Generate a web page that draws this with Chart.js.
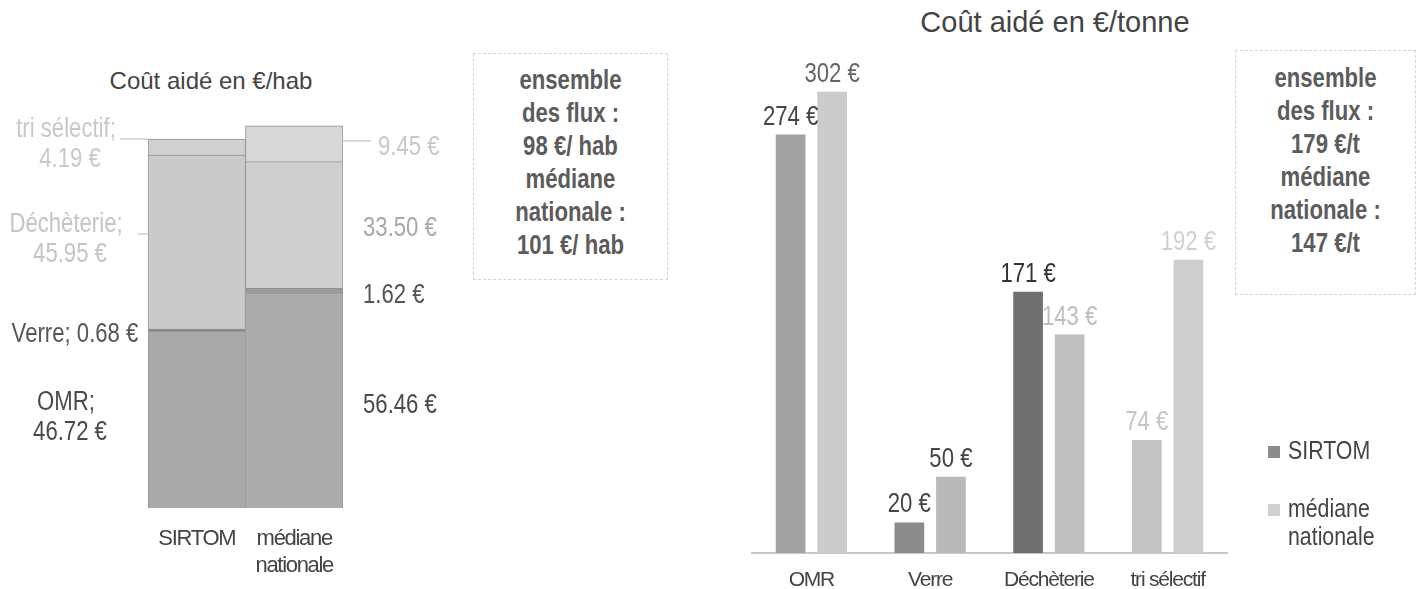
<!DOCTYPE html>
<html><head><meta charset="utf-8">
<script src="https://cdn.jsdelivr.net/npm/chart.js@4.4.1/dist/chart.umd.min.js"></script>
<style>
html,body{margin:0;padding:0;background:#fff;}
body{width:1419px;height:589px;overflow:hidden;position:relative;font-family:'Liberation Sans',Arial,sans-serif;}
canvas{position:absolute;top:0;}
#cHab{left:0;}
#cTonne{left:700px;}
.title{position:absolute;color:#444;white-space:nowrap;transform:translateX(-50%);line-height:1;}
.box{position:absolute;border:1px dashed #d4d4d4;color:#5c5c5c;font-weight:bold;text-align:center;font-size:27px;line-height:33px;box-sizing:border-box;}
.box div{transform:scaleX(0.82);white-space:nowrap;}
</style>
</head><body>
<div class="title" id="tHab" style="left:211px;top:69px;font-size:24px;"></div>
<div class="title" id="tTonne" style="left:1055px;top:8px;font-size:29px;"></div>
<div class="box" id="boxHab" style="left:473px;top:53px;width:195px;height:227px;padding-top:10px;"></div>
<div class="box" id="boxTonne" style="left:1235px;top:50px;width:181px;height:245px;padding-top:11px;"></div>
<canvas id="cHab" width="470" height="589"></canvas>
<canvas id="cTonne" width="719" height="589"></canvas>
<script>
// ---------- data: left chart (€/hab, stacked) ----------
const habTitle = 'Coût aidé en €/hab';
const habCategories = ['SIRTOM', ['médiane', 'nationale']];
const habSeries = ['OMR', 'Verre', 'Déchèterie', 'tri sélectif'];
const omrHab = [46.72, 56.46];
const verreHab = [0.68, 1.62];
const decheterieHab = [45.95, 33.50];
const triHab = [4.19, 9.45];
const habBoxLines = ['ensemble', 'des flux :', '98 €/ hab', 'médiane', 'nationale :', '101 €/ hab'];

// ---------- data: right chart (€/tonne, grouped) ----------
const tonneTitle = 'Coût aidé en €/tonne';
const tonneCategories = ['OMR', 'Verre', 'Déchèterie', 'tri sélectif'];
const tonneSeries = ['SIRTOM', 'médiane nationale'];
const sirtomTonne = [274, 20, 171, 74];
const medianeTonne = [302, 50, 143, 192];
const tonneBoxLines = ['ensemble', 'des flux :', '179 €/t', 'médiane', 'nationale :', '147 €/t'];

// ---------- styles ----------
const FONT = "'Liberation Sans',Arial,sans-serif";
const SQ = 0.82; // horizontal squeeze of the scanned lettering
const habFill = [['#a9a9a9', '#acacac'], ['#8a8a8a', '#9b9b9b'], ['#cacaca', '#cfcfcf'], ['#d0d0d0', '#d8d8d8']];
const habLeftColors = ['#4a4a4a', '#555555', '#c4c4c4', '#c8c8c8'];
const habRightColors = ['#4a4a4a', '#555555', '#a8a8a8', '#c8c8c8'];
const sirtomFill = ['#a2a2a2', '#8c8c8c', '#6f6f6f', '#c3c3c3'];
const medianeFill = ['#cbcbcb', '#b9b9b9', '#bfbfbf', '#cecece'];
const sirtomLabelColors = ['#444', '#444', '#333', '#c4c4c4'];
const medianeLabelColors = ['#666', '#444', '#bdbdbd', '#d0d0d0'];
const legendColors = ['#8c8c8c', '#d0d0d0'];

document.getElementById('tHab').textContent = habTitle;
document.getElementById('tTonne').textContent = tonneTitle;
document.getElementById('boxHab').innerHTML = habBoxLines.map(s => '<div>' + s + '</div>').join('');
document.getElementById('boxTonne').innerHTML = tonneBoxLines.map(s => '<div>' + s + '</div>').join('');

const fmtHab = v => v.toFixed(2) + ' €';
const fmtTonne = v => v + ' €';

function sText(ctx, text, x, y, align) {
  ctx.save();
  ctx.translate(x, y);
  ctx.scale(SQ, 1);
  ctx.textAlign = align;
  ctx.fillText(text, 0, 0);
  ctx.restore();
}

const spacingPlugin = {
  id: 'tightText',
  beforeDraw(chart, args, opts) { chart.ctx.letterSpacing = opts.spacing || '0px'; },
  afterDraw(chart) { chart.ctx.letterSpacing = '0px'; }
};

// ---------- left chart ----------
const habLabelPlugin = {
  id: 'habLabels',
  afterDatasetsDraw(chart) {
    const ctx = chart.ctx;
    ctx.save();
    ctx.letterSpacing = '0px';
    ctx.font = '27px ' + FONT;
    ctx.textBaseline = 'middle';
    chart.data.datasets.forEach((ds, i) => {
      const meta = chart.getDatasetMeta(i);
      const a = meta.data[0];
      const midA = (a.y + a.base) / 2;
      const leftX = a.x - a.width / 2;
      ctx.fillStyle = habLeftColors[i];
      const valA = fmtHab(ds.data[0]);
      if (i === 1) {
        sText(ctx, ds.label + '; ' + valA, leftX - 73, midA + 5, 'center');
      } else {
        sText(ctx, ds.label + ';', leftX - 82, midA - 17, 'center');
        sText(ctx, valA, leftX - 78, midA + 13, 'center');
      }
      if (i === 3 || i === 2) {
        ctx.strokeStyle = '#cfcfcf';
        ctx.lineWidth = 1.5;
        ctx.beginPath();
        const len = i === 3 ? 28 : 10;
        ctx.moveTo(leftX - len, midA - 8);
        ctx.lineTo(leftX, midA - 8);
        ctx.stroke();
      }
      const b = meta.data[1];
      const midB = (b.y + b.base) / 2;
      const rightX = b.x + b.width / 2;
      ctx.fillStyle = habRightColors[i];
      if (i === 3) {
        ctx.strokeStyle = '#cfcfcf';
        ctx.lineWidth = 1.5;
        ctx.beginPath();
        ctx.moveTo(rightX, midB - 3);
        ctx.lineTo(rightX + 28, midB - 3);
        ctx.stroke();
        sText(ctx, fmtHab(ds.data[1]), rightX + 35, midB + 4, 'left');
      } else {
        sText(ctx, fmtHab(ds.data[1]), rightX + 20, midB + 4, 'left');
      }
    });
    ctx.restore();
  }
};

const habData = [omrHab, verreHab, decheterieHab, triHab];
new Chart(document.getElementById('cHab'), {
  type: 'bar',
  data: {
    labels: habCategories,
    datasets: habSeries.map((name, i) => ({
      label: name,
      data: habData[i],
      backgroundColor: habFill[i],
      borderColor: '#939393',
      borderWidth: 1,
      barPercentage: 1,
      categoryPercentage: 1
    }))
  },
  options: {
    responsive: false,
    animation: false,
    layout: { padding: { left: 148, right: 127, top: 92, bottom: 0 } },
    plugins: { legend: { display: false }, tooltip: { enabled: false }, title: { display: false }, tightText: { spacing: '-1.3px' } },
    scales: {
      x: {
        stacked: true,
        grid: { display: false, drawTicks: false },
        border: { display: false },
        ticks: { color: '#444', padding: 17, font: { family: FONT, size: 22, lineHeight: 1.25 }, maxRotation: 0 },
        afterFit: s => { s.height = 81; }
      },
      y: { stacked: true, display: false, min: 0, max: 110 }
    }
  },
  plugins: [spacingPlugin, habLabelPlugin]
});

// ---------- right chart ----------
const tonneLabelPlugin = {
  id: 'tonneLabels',
  afterDatasetsDraw(chart) {
    const ctx = chart.ctx;
    ctx.save();
    ctx.letterSpacing = '0px';
    ctx.font = '27px ' + FONT;
    ctx.textBaseline = 'alphabetic';
    chart.data.datasets.forEach((ds, i) => {
      const meta = chart.getDatasetMeta(i);
      meta.data.forEach((el, j) => {
        ctx.fillStyle = (i === 0 ? sirtomLabelColors : medianeLabelColors)[j];
        sText(ctx, fmtTonne(ds.data[j]), el.x, el.y - 10, 'center');
      });
    });
    ctx.restore();
  },
  afterDraw(chart) {
    const ctx = chart.ctx;
    ctx.save();
    ctx.letterSpacing = '0px';
    ctx.font = '26px ' + FONT;
    ctx.textBaseline = 'middle';
    const x0 = chart.chartArea.right + 41;
    chart.data.datasets.forEach((ds, i) => {
      const yTop = 452 + i * 58;
      ctx.fillStyle = legendColors[i];
      ctx.fillRect(x0, yTop - 6, 12, 12);
      ctx.fillStyle = '#444';
      ds.label.split(' ').forEach((w, k) => sText(ctx, w, x0 + 20, yTop + k * 28, 'left'));
    });
    ctx.restore();
  }
};

new Chart(document.getElementById('cTonne'), {
  type: 'bar',
  data: {
    labels: tonneCategories,
    datasets: [
      { label: tonneSeries[0], data: sirtomTonne, backgroundColor: sirtomFill, borderWidth: 0, barPercentage: 0.714, categoryPercentage: 0.70 },
      { label: tonneSeries[1], data: medianeTonne, backgroundColor: medianeFill, borderWidth: 0, barPercentage: 0.714, categoryPercentage: 0.70 }
    ]
  },
  options: {
    responsive: false,
    animation: false,
    layout: { padding: { left: 52, right: 192, top: 49, bottom: 0 } },
    plugins: { legend: { display: false }, tooltip: { enabled: false }, title: { display: false }, tightText: { spacing: '-1.2px' } },
    scales: {
      x: {
        grid: { display: false, drawTicks: false },
        border: { display: true, color: '#c8c8c8', width: 2 },
        ticks: { color: '#444', padding: 15, font: { family: FONT, size: 21, lineHeight: 1.2 }, maxRotation: 0 },
        afterFit: s => { s.height = 36; }
      },
      y: { display: false, min: 0, max: 330 }
    }
  },
  plugins: [spacingPlugin, tonneLabelPlugin]
});
</script>
</body></html>
